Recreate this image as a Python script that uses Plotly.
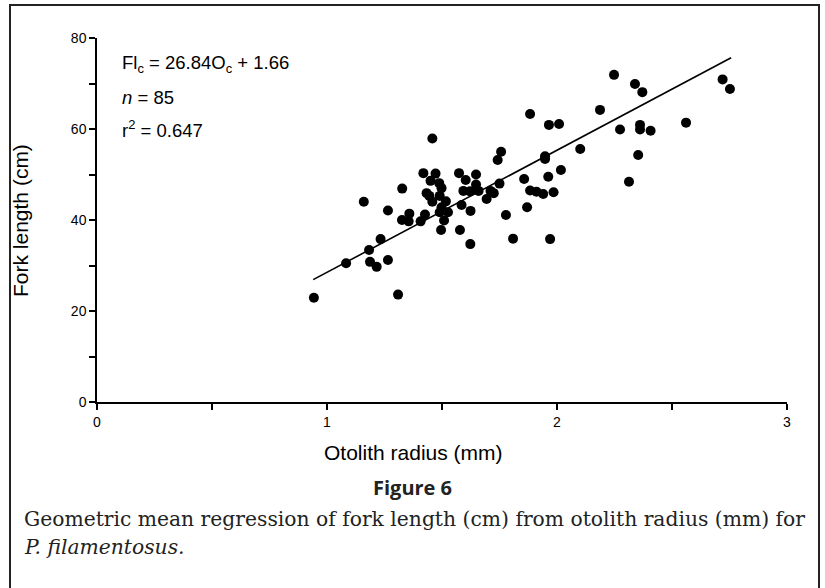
import plotly.graph_objects as go

# Scatter data
otolith_radius = [0.943, 1.309, 1.083, 1.187, 1.216, 1.265, 1.183, 1.233, 1.160, 1.265,
                  1.327, 1.326, 1.355, 1.358, 1.407, 1.426, 1.419, 1.472, 1.450, 1.488,
                  1.498, 1.433, 1.445, 1.490, 1.458, 1.517, 1.498, 1.490, 1.526, 1.509,
                  1.496, 1.574, 1.648, 1.603, 1.648, 1.593, 1.622, 1.659, 1.694, 1.585,
                  1.624, 1.578, 1.623, 1.458, 1.711, 1.725, 1.757, 1.742, 1.948, 1.948,
                  2.101, 1.750, 1.857, 1.962, 2.017, 1.883, 1.911, 1.940, 1.985, 1.870,
                  1.778, 2.353, 2.313, 1.809, 1.970, 2.339, 2.371, 2.720, 2.752, 2.274,
                  2.361, 2.361, 2.407, 2.561, 1.883, 1.965, 2.009, 2.187, 2.248]
fork_length = [22.9, 23.6, 30.5, 30.8, 29.7, 31.2, 33.4, 35.8, 44.0, 42.1,
               46.9, 40.0, 39.7, 41.4, 39.7, 41.2, 50.3, 50.2, 48.6, 48.1,
               47.0, 45.9, 45.3, 45.3, 44.0, 44.1, 42.8, 41.7, 41.7, 39.9,
               37.8, 50.3, 50.0, 48.8, 47.8, 46.4, 46.3, 46.4, 44.6, 43.3,
               42.0, 37.8, 34.7, 57.9, 46.4, 45.9, 55.0, 53.2, 53.4, 54.0,
               55.6, 48.0, 49.0, 49.5, 51.0, 46.5, 46.2, 45.7, 46.1, 42.8,
               41.1, 54.3, 48.4, 35.9, 35.8, 69.9, 68.1, 70.9, 68.8, 59.9,
               60.9, 59.9, 59.6, 61.4, 63.3, 60.9, 61.1, 64.2, 71.9]

# Regression: FL = 26.84 * O + 1.66 over the observed radius range
slope = 26.84
intercept = 1.66
line_x = [0.94, 2.757]
line_y = [slope * v + intercept for v in line_x]

x_ticks = [0, 1, 2, 3]
y_ticks = [0, 20, 40, 60, 80]

fig = go.Figure()
fig.add_trace(go.Scatter(x=line_x, y=line_y, mode="lines",
                         line=dict(color="black", width=1.6), hoverinfo="skip"))
fig.add_trace(go.Scatter(x=otolith_radius, y=fork_length, mode="markers",
                         marker=dict(color="black", size=10, line=dict(width=0))))

# plot area in page pixels: x 97..787, y 38..402
L, R, T, B = 97, 787, 38, 402
W, H = 825, 588
PW, PH = R - L, B - T


def px(x):
    return (x - L) / PW


def py(y):
    return (B - y) / PH


axfont = dict(family="Liberation Sans, Arial, sans-serif", size=14, color="black")

fig.update_layout(
    width=W, height=H,
    margin=dict(l=L, r=W - R, t=T, b=H - B, pad=0),
    paper_bgcolor="white", plot_bgcolor="white",
    showlegend=False,
    xaxis=dict(range=[0, 3], tickvals=x_ticks, ticks="outside", ticklen=6, tickwidth=1.5,
               tickcolor="black", showline=True, linecolor="black", linewidth=1.5,
               showgrid=False, zeroline=False, tickfont=axfont,
               minor=dict(dtick=0.5, ticks="outside", ticklen=6, tickwidth=1.5, tickcolor="black",
                          showgrid=False)),
    yaxis=dict(range=[0, 80], tickvals=y_ticks, ticks="outside", ticklen=6, tickwidth=1.5,
               tickcolor="black", showline=True, linecolor="black", linewidth=1.5,
               showgrid=False, zeroline=False, tickfont=axfont,
               minor=dict(dtick=10, ticks="outside", ticklen=6, tickwidth=1.5, tickcolor="black",
                          showgrid=False)),
)

sans = "Liberation Sans, Arial, sans-serif"
serif = "DejaVu Serif, serif"
ann = [
    dict(text="Fl<sub>c</sub> = 26.84O<sub>c</sub> + 1.66", x=px(120), y=py(64), xanchor="left",
         yanchor="middle", font=dict(family=sans, size=18.5, color="black")),
    dict(text="<i>n</i> = 85", x=px(120), y=py(97), xanchor="left", yanchor="middle",
         font=dict(family=sans, size=18.5, color="black")),
    dict(text="r<sup>2</sup> = 0.647", x=px(120), y=py(129), xanchor="left", yanchor="middle",
         font=dict(family=sans, size=18.5, color="black")),
    dict(text="Otolith radius (mm)", x=px(413), y=py(452), xanchor="center", yanchor="middle",
         font=dict(family=sans, size=21, color="black")),
    dict(text="Fork length (cm)", x=px(20), y=py(221), xanchor="center", yanchor="middle",
         textangle=-90, font=dict(family=sans, size=21, color="black")),
    dict(text="<b>Figure 6</b>", x=px(412), y=py(487), xanchor="center", yanchor="middle",
         font=dict(family="Open Sans, sans-serif", size=20, color="#222")),
    dict(text="Geometric mean regression of fork length (cm) from otolith radius (mm) for",
         x=px(22), y=py(519), xanchor="left", yanchor="middle",
         font=dict(family=serif, size=20.3, color="#222")),
    dict(text="<i>P. filamentosus.</i>", x=px(22), y=py(547), xanchor="left", yanchor="middle",
         font=dict(family=serif, size=20.3, color="#222")),
]
for a in ann:
    a.update(xref="paper", yref="paper", showarrow=False)
fig.update_layout(annotations=ann)

fig.add_shape(type="rect", xref="paper", yref="paper",
              x0=px(10), x1=px(819), y0=py(5), y1=py(600),
              line=dict(color="#222", width=2), fillcolor="rgba(0,0,0,0)")

fig.write_html("out.html", config={"displayModeBar": False},
               post_script="document.body.style.margin='0';document.body.style.overflow='hidden';")
